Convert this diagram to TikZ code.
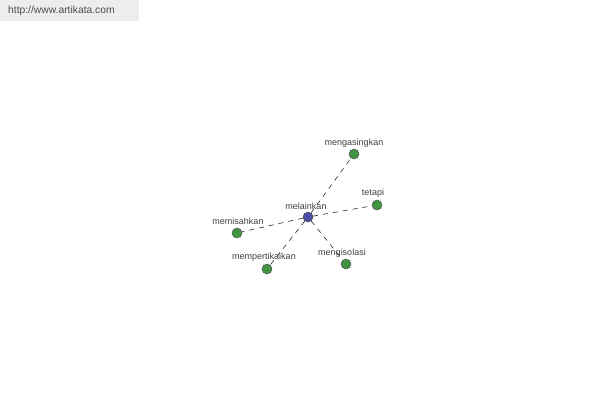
\documentclass[tikz,border=0pt]{standalone}
\usepackage{fontspec}
\setmainfont{Liberation Sans}
\begin{document}
\begin{tikzpicture}[x=1pt,y=-1pt,
  leaf/.style={circle,draw=black!70,line width=0.5pt,fill=green!45!black!75,minimum size=10pt,inner sep=0pt},
  hub/.style={circle,draw=black!70,line width=0.5pt,fill=blue!50!black!70,minimum size=10pt,inner sep=0pt},
  lbl/.style={font=\fontsize{9}{10}\selectfont,text=black!75,inner sep=0pt},
  link/.style={draw=black!85,dash pattern=on 5pt off 5pt,line width=0.6pt}]
\useasboundingbox (0,0) rectangle (600,400);
\fill[black!7] (0,0) rectangle (139,21);
\node[anchor=west,font=\fontsize{10.3}{11}\selectfont,text=black!70,inner sep=0pt] (url) at (8,11) {http://www.artikata.com};
\node[hub] (c) at (308,217) {};
\node[leaf] (a) at (354,154) {};
\node[leaf] (t) at (377,205) {};
\node[leaf] (m) at (237,233) {};
\node[leaf] (p) at (267,269) {};
\node[leaf] (i) at (346,264) {};
\foreach \n in {a,t,m,p,i} \draw[link] (c) -- (\n);
\node[lbl] (lc) at (306,206) {melainkan};
\node[lbl] (la) at (354,143) {mengasingkan};
\node[lbl] (lt) at (373,193) {tetapi};
\node[lbl] (lm) at (238,221) {memisahkan};
\node[lbl] (lp) at (264,257) {mempertikaikan};
\node[lbl] (li) at (342,253) {mengisolasi};
\end{tikzpicture}
\end{document}
